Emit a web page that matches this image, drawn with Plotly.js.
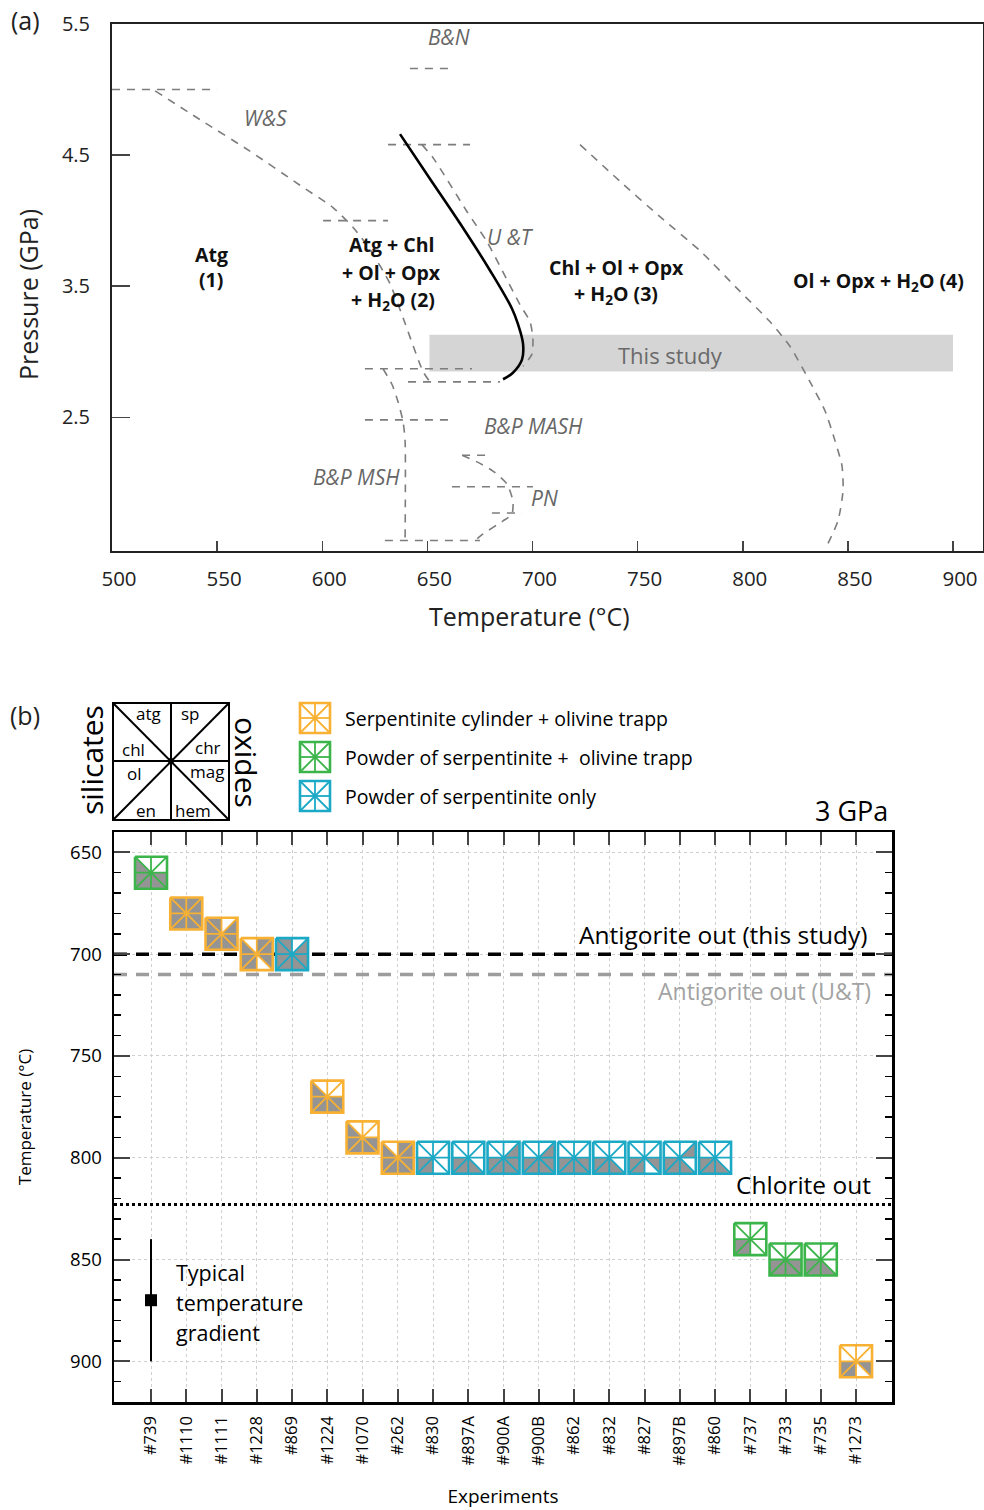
<!DOCTYPE html>
<html><head><meta charset="utf-8">
<script src="https://cdn.plot.ly/plotly-3.0.1.min.js"></script>
<style>html,body{margin:0;padding:0;background:#fff}</style>
</head><body><div id="chart" style="width:984px;height:1510px"></div>
<script>
// ================= Panel (a) data: P-T phase diagram =================
const wsFlatT=[500,550], wsFlatP=[5.0,5.0];
const wsT=[520.5,541.9,565.6,589.4,605.1,614.6,622.7,632.2,638.4,647.9,651.2];
const wsP=[4.99,4.77,4.53,4.27,4.10,3.95,3.78,3.52,3.26,2.85,2.77];
const wsLowT=[640.8,684.5], wsLowP=[2.77,2.77];
const flat4T=[600.4,631.3], flat4P=[4.0,4.0];
const bnT=[641.7,661.7], bnP=[5.16,5.16];
const utFlatT=[631.3,670.3], utFlatP=[4.58,4.58];
const utT=[647.4,652.7,668.8,678.3,694.0,698.8,700.2,699.7,695.5];
const utP=[4.58,4.48,4.07,3.84,3.36,3.23,3.10,2.98,2.89];
const flat287T=[620.3,671.2], flat287P=[2.87,2.87];
const mshT=[628.9,633.2,636.0,638.4,639.4,639.4];
const mshP=[2.87,2.75,2.62,2.47,2.32,1.56];
const mshLowT=[629.8,675.0], mshLowP=[1.56,1.56];
const mashT=[620.3,660.8], mashP=[2.48,2.48];
const pnTopT=[666.5,680.7], pnTopP=[2.21,2.21];
const pnT=[666.5,673.6,681.2,687.9,690.7,690.2,686.0,676.5,672.6];
const pnP=[2.21,2.16,2.09,1.99,1.86,1.76,1.71,1.61,1.56];
const pnMidT=[661.7,700.2], pnMidP=[1.97,1.97];
const pnLowT=[680.7,695.0], pnLowP=[1.77,1.77];
const chlOutT=[722.6,741.6,760.6,779.7,798.7,812.9,822.5,832.0,839.1,843.9,847.2,847.7,845.3,839.1];
const chlOutP=[4.58,4.30,4.03,3.77,3.46,3.23,3.04,2.77,2.55,2.32,2.13,1.94,1.71,1.49];
const thisT=[637.0,651.2,665.5,679.8,690.2,693.1,695.5,695.0,690.7,686.0];
const thisP=[4.66,4.32,3.98,3.62,3.33,3.21,3.06,2.94,2.84,2.79];
const bandT=[651,900], bandP=[2.85,3.13];

// ================= Panel (b) data: experiments =================
const experiments=['#739','#1110','#1111','#1228','#869','#1224','#1070','#262','#830','#897A','#900A','#900B','#862','#832','#827','#897B','#860','#737','#733','#735','#1273'];
const temps=[660,680,690,700,700,770,790,800,800,800,800,800,800,800,800,800,800,840,850,850,900];
const setup=['P','C','C','C','S','C','C','C','S','S','S','S','S','S','S','S','S','P','P','P','C'];
// phases (1 = present, grey triangle)
const atg=[0,1,1,0,1,0,0,0,0,0,0,0,0,0,0,0,0,0,0,0,0];
const sp =[0,1,0,1,0,0,0,1,0,0,0,0,0,0,0,0,0,0,0,0,0];
const chl=[1,1,1,1,1,1,1,1,0,0,0,0,0,0,0,0,0,0,0,0,0];
const chr=[0,1,1,1,1,0,0,1,0,0,1,1,0,0,0,1,0,0,0,0,0];
const ol =[1,1,1,1,1,1,1,1,1,1,1,1,1,1,1,1,1,1,1,1,1];
const mag=[1,1,1,1,1,1,1,1,0,0,1,1,1,0,1,0,0,0,1,0,1];
const en =[1,1,1,1,1,1,1,1,1,1,1,1,1,1,1,1,1,1,1,1,1];
const hem=[1,1,1,0,1,1,1,1,0,1,1,1,1,1,0,1,1,0,1,1,0];
const antigoriteOut=700, antigoriteOutUT=710, chloriteOut=823;
const gradT=870, gradErr=30;

// ================= layout geometry =================
const W=984,H=1510, M={l:112,r:1,t:24,b:108};
const PW=W-M.l-M.r, PH=H-M.t-M.b;
const x2dom=[(114-112)/PW,(892-112)/PW], y2dom=[0,(1402-832)/PH];
const y1dom=[(1402-551)/PH,1];
const x1range=[500,500+PW*400/841];
const x2range=[-1.05,21.02], y2range=[920,640];
const FONT='"Open Sans", Lato, sans-serif';
const px=x=>(x-M.l)/PW, py=y=>(H-M.b-y)/PH;

const traces=[];
function dashed(T,P){traces.push({x:T,y:P,xaxis:'x',yaxis:'y',mode:'lines',line:{color:'#7d7d7d',width:1.6,dash:'8px,7px',shape:'spline',smoothing:0.6},hoverinfo:'skip',showlegend:false});}
[[wsFlatT,wsFlatP],[wsT,wsP],[wsLowT,wsLowP],[flat4T,flat4P],[bnT,bnP],[utFlatT,utFlatP],[utT,utP],
 [flat287T,flat287P],[mshT,mshP],[mshLowT,mshLowP],[mashT,mashP],[pnTopT,pnTopP],[pnT,pnP],
 [pnMidT,pnMidP],[pnLowT,pnLowP],[chlOutT,chlOutP]].forEach(a=>dashed(a[0],a[1]));
traces.push({x:thisT,y:thisP,xaxis:'x',yaxis:'y',mode:'lines',line:{color:'#000',width:2.6,shape:'spline'},hoverinfo:'skip',showlegend:false});

// ---- markers of panel (b) ----
const pxX=PW*(x2dom[1]-x2dom[0])/(x2range[1]-x2range[0]);
const pxY=PH*(y2dom[1]-y2dom[0])/(y2range[0]-y2range[1]);
const half=16, hx=half/pxX, hy=half/pxY;
const colors={C:'#f8b133',P:'#3bb54a',S:'#1ba9c6'};
const wx=[],wy=[],gx=[],gy=[];
const lines={C:{bx:[],by:[],ix:[],iy:[]},P:{bx:[],by:[],ix:[],iy:[]},S:{bx:[],by:[],ix:[],iy:[]}};
const phases=[atg,sp,chl,chr,ol,mag,en,hem];
experiments.forEach((e,i)=>{
  const cx=i, cy=temps[i], L=cx-hx, R=cx+hx, T=cy-hy, B=cy+hy;
  const pts={TL:[L,T],TM:[cx,T],TR:[R,T],LM:[L,cy],C:[cx,cy],RM:[R,cy],BL:[L,B],BM:[cx,B],BR:[R,B]};
  [pts.TL,pts.TR,pts.BR,pts.BL,pts.TL].forEach(p=>{wx.push(p[0]);wy.push(p[1]);}); wx.push(null);wy.push(null);
  const tri=[['TL','TM','C'],['TM','TR','C'],['TL','LM','C'],['TR','RM','C'],['LM','BL','C'],['RM','BR','C'],['BL','BM','C'],['BR','BM','C']];
  tri.forEach((t,k)=>{ if(phases[k][i]){ t.concat([t[0]]).forEach(n=>{gx.push(pts[n][0]);gy.push(pts[n][1]);}); gx.push(null);gy.push(null);} });
  const g=lines[setup[i]];
  [pts.TL,pts.TR,pts.BR,pts.BL,pts.TL].forEach(p=>{g.bx.push(p[0]);g.by.push(p[1]);}); g.bx.push(null);g.by.push(null);
  [['LM','RM'],['TM','BM'],['TL','BR'],['TR','BL']].forEach(s=>{g.ix.push(pts[s[0]][0],pts[s[1]][0],null);g.iy.push(pts[s[0]][1],pts[s[1]][1],null);});
});
traces.push({x:wx,y:wy,xaxis:'x2',yaxis:'y2',mode:'lines',fill:'toself',fillcolor:'#fff',line:{width:0},hoverinfo:'skip',showlegend:false});
traces.push({x:gx,y:gy,xaxis:'x2',yaxis:'y2',mode:'lines',fill:'toself',fillcolor:'#949494',line:{width:0},hoverinfo:'skip',showlegend:false});
Object.keys(lines).forEach(k=>{
  traces.push({x:lines[k].ix,y:lines[k].iy,xaxis:'x2',yaxis:'y2',mode:'lines',line:{color:colors[k],width:1.8},hoverinfo:'skip',showlegend:false});
  traces.push({x:lines[k].bx,y:lines[k].by,xaxis:'x2',yaxis:'y2',mode:'lines',line:{color:colors[k],width:2.6},hoverinfo:'skip',showlegend:false});
});
traces.push({x:[0],y:[gradT],xaxis:'x2',yaxis:'y2',mode:'markers',marker:{symbol:'square',size:12,color:'#000'},
  error_y:{type:'data',array:[gradErr],width:0,thickness:2,color:'#000'},hoverinfo:'skip',showlegend:false});

// ================= shapes =================
const shapes=[];
shapes.push({type:'rect',xref:'x',yref:'y',x0:bandT[0],x1:bandT[1],y0:bandP[0],y1:bandP[1],fillcolor:'#d5d5d5',line:{width:0},layer:'between'});
shapes.push({type:'line',xref:'x2',yref:'y2',x0:x2range[0],x1:x2range[1],y0:antigoriteOut,y1:antigoriteOut,line:{color:'#000',width:3.5,dash:'13px,9px'},layer:'between'});
shapes.push({type:'line',xref:'x2',yref:'y2',x0:x2range[0],x1:x2range[1],y0:antigoriteOutUT,y1:antigoriteOutUT,line:{color:'#9d9d9d',width:3.5,dash:'13px,9px'},layer:'between'});
shapes.push({type:'line',xref:'x2',yref:'y2',x0:x2range[0],x1:x2range[1],y0:chloriteOut,y1:chloriteOut,line:{color:'#000',width:3,dash:'dot'},layer:'between'});
function pline(a,b,col,w){shapes.push({type:'line',xref:'paper',yref:'paper',x0:px(a[0]),y0:py(a[1]),x1:px(b[0]),y1:py(b[1]),line:{color:col,width:w}});}
// key schematic
shapes.push({type:'rect',xref:'paper',yref:'paper',x0:px(113),x1:px(229),y0:py(820),y1:py(703),line:{color:'#000',width:2},fillcolor:'rgba(0,0,0,0)'});
pline([171,703],[171,820],'#000',2); pline([113,761],[229,761],'#000',2);
pline([113,703],[229,820],'#000',2); pline([229,703],[113,820],'#000',2);
shapes.push({type:'circle',xref:'paper',yref:'paper',x0:px(168),x1:px(174),y0:py(764),y1:py(758),fillcolor:'#000',line:{width:0}});
// legend icons
[['C',718],['P',757],['S',796]].forEach(([k,cy])=>{
  const cx=315,h=15,c=colors[k];
  shapes.push({type:'rect',xref:'paper',yref:'paper',x0:px(cx-h),x1:px(cx+h),y0:py(cy+h),y1:py(cy-h),fillcolor:'#fff',line:{color:c,width:2.6}});
  pline([cx-h,cy],[cx+h,cy],c,1.8); pline([cx,cy-h],[cx,cy+h],c,1.8);
  pline([cx-h,cy-h],[cx+h,cy+h],c,1.8); pline([cx+h,cy-h],[cx-h,cy+h],c,1.8);
});

// ================= annotations =================
const anns=[];
function A(text,x,y,o){anns.push(Object.assign({text:text,xref:'paper',yref:'paper',x:px(x),y:py(y),showarrow:false,xanchor:'center',yanchor:'middle',font:{family:FONT,size:18,color:'#000'}},o||{}));}
const gi={family:FONT,size:21,color:'#666'};
const bd={family:FONT,size:19.5,color:'#111'};
A('(a)',25,20,{font:{family:FONT,size:25,color:'#222'}});
A('(b)',25,715,{font:{family:FONT,size:25,color:'#222'}});
A('Temperature (°C)',529,616,{font:{family:FONT,size:25,color:'#222'}});
A('Pressure (GPa)',28,295,{textangle:-90,font:{family:FONT,size:25,color:'#222'}});
A('<i>B&amp;N</i>',449,37,{font:gi});
A('<i>W&amp;S</i>',265,118,{font:gi});
A('<i>U &amp;T</i>',510,237,{font:gi});
A('<i>B&amp;P MASH</i>',533,426,{font:gi});
A('<i>B&amp;P MSH</i>',356,477,{font:gi});
A('<i>PN</i>',544,498,{font:gi});
A('<b>Atg</b>',211,254,{font:bd}); A('<b>(1)</b>',211,279,{font:bd});
A('<b>Atg + Chl</b>',391,245,{font:bd}); A('<b>+ Ol + Opx</b>',391,272,{font:bd}); A('<b>+ H<sub>2</sub>O (2)</b>',393,300,{font:bd});
A('<b>Chl + Ol + Opx</b>',616,267,{font:bd}); A('<b>+ H<sub>2</sub>O (3)</b>',616,294,{font:bd});
A('<b>Ol + Opx + H<sub>2</sub>O (4)</b>',878,281,{font:bd});
A('This study',670,355,{font:{family:FONT,size:22,color:'#6a6a6a'}});
// key labels
const kf={family:FONT,size:17,color:'#000'};
A('atg',148,713,{font:kf}); A('sp',190,713,{font:kf}); A('chl',133,749,{font:kf}); A('chr',208,748,{font:kf});
A('ol',134,774,{font:kf}); A('mag',207,771,{font:kf}); A('en',146,810,{font:kf}); A('hem',193,810,{font:kf});
A('silicates',91,760,{textangle:-90,font:{family:FONT,size:30,color:'#000'}});
A('oxides',246,762,{textangle:90,font:{family:FONT,size:30,color:'#000'}});
const lf={family:FONT,size:19.5,color:'#000'};
A('Serpentinite cylinder + olivine trapp',343,718,{xanchor:'left',font:lf});
A('Powder of serpentinite +  olivine trapp',343,757,{xanchor:'left',font:lf});
A('Powder of serpentinite only',343,796,{xanchor:'left',font:lf});
A('3 GPa',890,810,{xanchor:'right',font:{family:FONT,size:27,color:'#000'}});
A('Antigorite out (this study)',870,935,{xanchor:'right',font:{family:FONT,size:24.5,color:'#000'}});
A('Antigorite out (U&amp;T)',873,991,{xanchor:'right',font:{family:FONT,size:23,color:'#a3a3a3'}});
A('Chlorite out',873,1184,{xanchor:'right',font:{family:FONT,size:24.5,color:'#000'}});
const tf={family:FONT,size:21.5,color:'#000'};
A('Typical',174,1272,{xanchor:'left',font:tf});
A('temperature',174,1302,{xanchor:'left',font:tf});
A('gradient',174,1332,{xanchor:'left',font:tf});

// ================= layout =================
const layout={
  width:W,height:H,margin:M,paper_bgcolor:'#fff',plot_bgcolor:'rgba(0,0,0,0)',showlegend:false,
  font:{family:FONT,color:'#000'},
  xaxis:{domain:[0,1],anchor:'y',range:x1range,tickvals:[500,550,600,650,700,750,800,850,900],ticks:'inside',ticklen:10,tickwidth:1.5,
    showline:true,mirror:true,linewidth:2,linecolor:'#222',showgrid:false,zeroline:false,ticklabelshift:7,ticklabelstandoff:8,
    tickfont:{family:FONT,size:20.5,color:'#222'}},
  yaxis:{domain:y1dom,anchor:'x',range:[1.48,5.5],tickvals:[2.5,3.5,4.5,5.5],ticktext:['2.5','3.5','4.5','5.5'],ticks:'inside',ticklen:18,tickwidth:1.5,
    showline:true,mirror:true,linewidth:2,linecolor:'#222',showgrid:false,zeroline:false,ticklabelstandoff:16,
    tickfont:{family:FONT,size:20,color:'#222'}},
  xaxis2:{domain:x2dom,anchor:'y2',range:x2range,tickvals:experiments.map((e,i)=>i),ticktext:experiments,tickangle:-90,
    ticks:'inside',ticklen:13,tickwidth:2,showline:true,mirror:'allticks',linewidth:2.5,linecolor:'#000',zeroline:false,
    showgrid:true,gridcolor:'#cfcfcf',griddash:'dot',gridwidth:1,ticklabelstandoff:5,
    tickfont:{family:FONT,size:16.5,color:'#000'},title:{text:'Experiments',font:{family:FONT,size:19,color:'#000'},standoff:25}},
  yaxis2:{domain:y2dom,anchor:'x2',range:y2range,tickvals:[650,700,750,800,850,900],ticks:'inside',ticklen:16,tickwidth:2,
    minor:{dtick:10,ticks:'inside',ticklen:7,tickwidth:1.5,tickcolor:'#000',showgrid:false},
    showline:true,mirror:'allticks',linewidth:2.5,linecolor:'#000',zeroline:false,
    showgrid:true,gridcolor:'#cfcfcf',griddash:'dot',gridwidth:1,ticklabelstandoff:6,
    tickfont:{family:FONT,size:18.5,color:'#000'},title:{text:'Temperature (°C)',font:{family:FONT,size:17,color:'#000'},standoff:34}},
  shapes:shapes,annotations:anns
};
Plotly.newPlot('chart',traces,layout,{staticPlot:true,displayModeBar:false});
</script></body></html>
